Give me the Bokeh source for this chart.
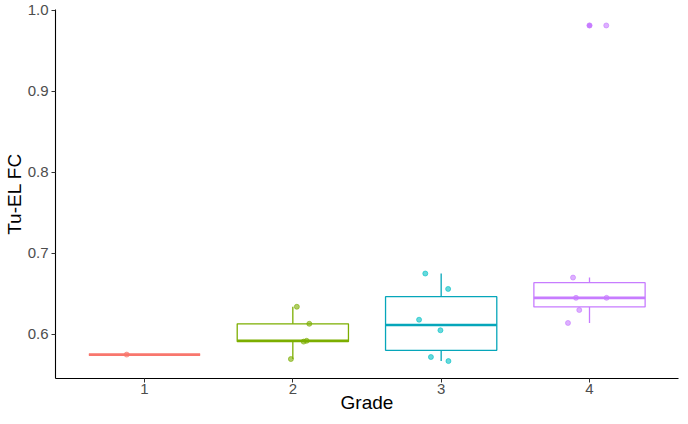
import numpy as np
from bokeh.plotting import figure
from bokeh.models import Range1d, FixedTicker, PrintfTickFormatter, ColumnDataSource
from bokeh.embed import file_html
from bokeh.resources import INLINE

# ---- data ----
grades = [1, 2, 3, 4]
colors = ["#F8766D", "#7CAE00", "#00BFC4", "#C77CFF"]
box_colors = ["#F8766D", "#7CAE00", "#06A6BA", "#C77CFF"]
g1_values = [0.575]
g2_values = [0.634, 0.613, 0.592, 0.591, 0.5695]
g3_values = [0.675, 0.656, 0.618, 0.605, 0.572, 0.567]
g4_values = [0.670, 0.645, 0.645, 0.630, 0.614, 0.981]
g1_jitter = [-0.12]
g2_jitter = [0.027, 0.111, 0.093, 0.073, -0.013]
g3_jitter = [-0.107, 0.047, -0.149, -0.005, -0.069, 0.049]
g4_jitter = [-0.111, -0.091, 0.115, -0.069, -0.145, 0.113]
y_ticks = [0.6, 0.7, 0.8, 0.9, 1.0]
x_title = "Grade"
y_title = "Tu-EL FC"

values = [g1_values, g2_values, g3_values, g4_values]
jitters = [g1_jitter, g2_jitter, g3_jitter, g4_jitter]

FONT = "Liberation Sans"
BOX_W = 0.75

p = figure(width=680, height=416, x_range=Range1d(0.4, 4.6), y_range=Range1d(0.5455, 1.0007),
           output_backend="svg", toolbar_location=None,
           min_border_left=44, min_border_right=2, min_border_top=9, min_border_bottom=38)
p.grid.visible = False
p.outline_line_color = None
p.background_fill_color = "white"

# box statistics
box = dict(x=[], q1=[], q2=[], q3=[], lo=[], hi=[], color=[])
out = dict(x=[], y=[], color=[])
for g, vals, c in zip(grades, values, box_colors):
    v = np.array(vals)
    q1, q2, q3 = np.percentile(v, [25, 50, 75])
    iqr = q3 - q1
    inside = v[(v >= q1 - 1.5 * iqr) & (v <= q3 + 1.5 * iqr)]
    box["x"].append(g); box["q1"].append(q1); box["q2"].append(q2); box["q3"].append(q3)
    box["lo"].append(inside.min()); box["hi"].append(inside.max()); box["color"].append(c)
    for o in v[(v < q1 - 1.5 * iqr) | (v > q3 + 1.5 * iqr)]:
        out["x"].append(g); out["y"].append(o); out["color"].append(c)

bsrc = ColumnDataSource(box)
p.segment(x0="x", y0="q3", x1="x", y1="hi", line_color="color", line_width=1.3, source=bsrc)
p.segment(x0="x", y0="q1", x1="x", y1="lo", line_color="color", line_width=1.3, source=bsrc)
p.vbar(x="x", width=BOX_W, bottom="q1", top="q3", fill_color="white", fill_alpha=0,
       line_color="color", line_width=1.3, source=bsrc)
bsrc2 = ColumnDataSource(dict(x0=[x - BOX_W / 2 for x in box["x"]], x1=[x + BOX_W / 2 for x in box["x"]],
                              y=box["q2"], color=box["color"]))
p.segment(x0="x0", y0="y", x1="x1", y1="y", line_color="color", line_width=2.6, source=bsrc2)

# outliers
p.scatter(x="x", y="y", color="color", size=5, source=ColumnDataSource(out))

# jittered points
px, py, pc = [], [], []
for g, vals, jit, c in zip(grades, values, jitters, colors):
    for v, j in zip(vals, jit):
        px.append(g + j); py.append(v); pc.append(c)
p.scatter(x="x", y="y", color="color", alpha=0.6, size=5,
          source=ColumnDataSource(dict(x=px, y=py, color=pc)))

# axes
p.xaxis.ticker = FixedTicker(ticks=grades)
p.xaxis.formatter = PrintfTickFormatter(format="%d")
p.yaxis.ticker = FixedTicker(ticks=y_ticks)
p.yaxis.formatter = PrintfTickFormatter(format="%.1f")
p.xaxis.axis_label = x_title
p.yaxis.axis_label = y_title
for ax in (p.xaxis, p.yaxis):
    ax.axis_line_color = "black"
    ax.axis_line_width = 1.1
    ax.major_tick_line_color = "#333333"
    ax.major_tick_in = 0
    ax.major_tick_out = 4
    ax.minor_tick_line_color = None
    ax.major_label_text_font = FONT
    ax.major_label_text_font_size = "15px"
    ax.major_label_text_color = "#4D4D4D"
    ax.axis_label_text_font = FONT
    ax.axis_label_text_font_size = "19px"
    ax.axis_label_text_font_style = "normal"
    ax.axis_label_text_color = "black"
p.xaxis.major_label_standoff = 1
p.xaxis.axis_label_standoff = -5
p.yaxis.major_label_standoff = 3
p.yaxis.axis_label_standoff = 0

open("out.html", "w").write(file_html(p, INLINE))
